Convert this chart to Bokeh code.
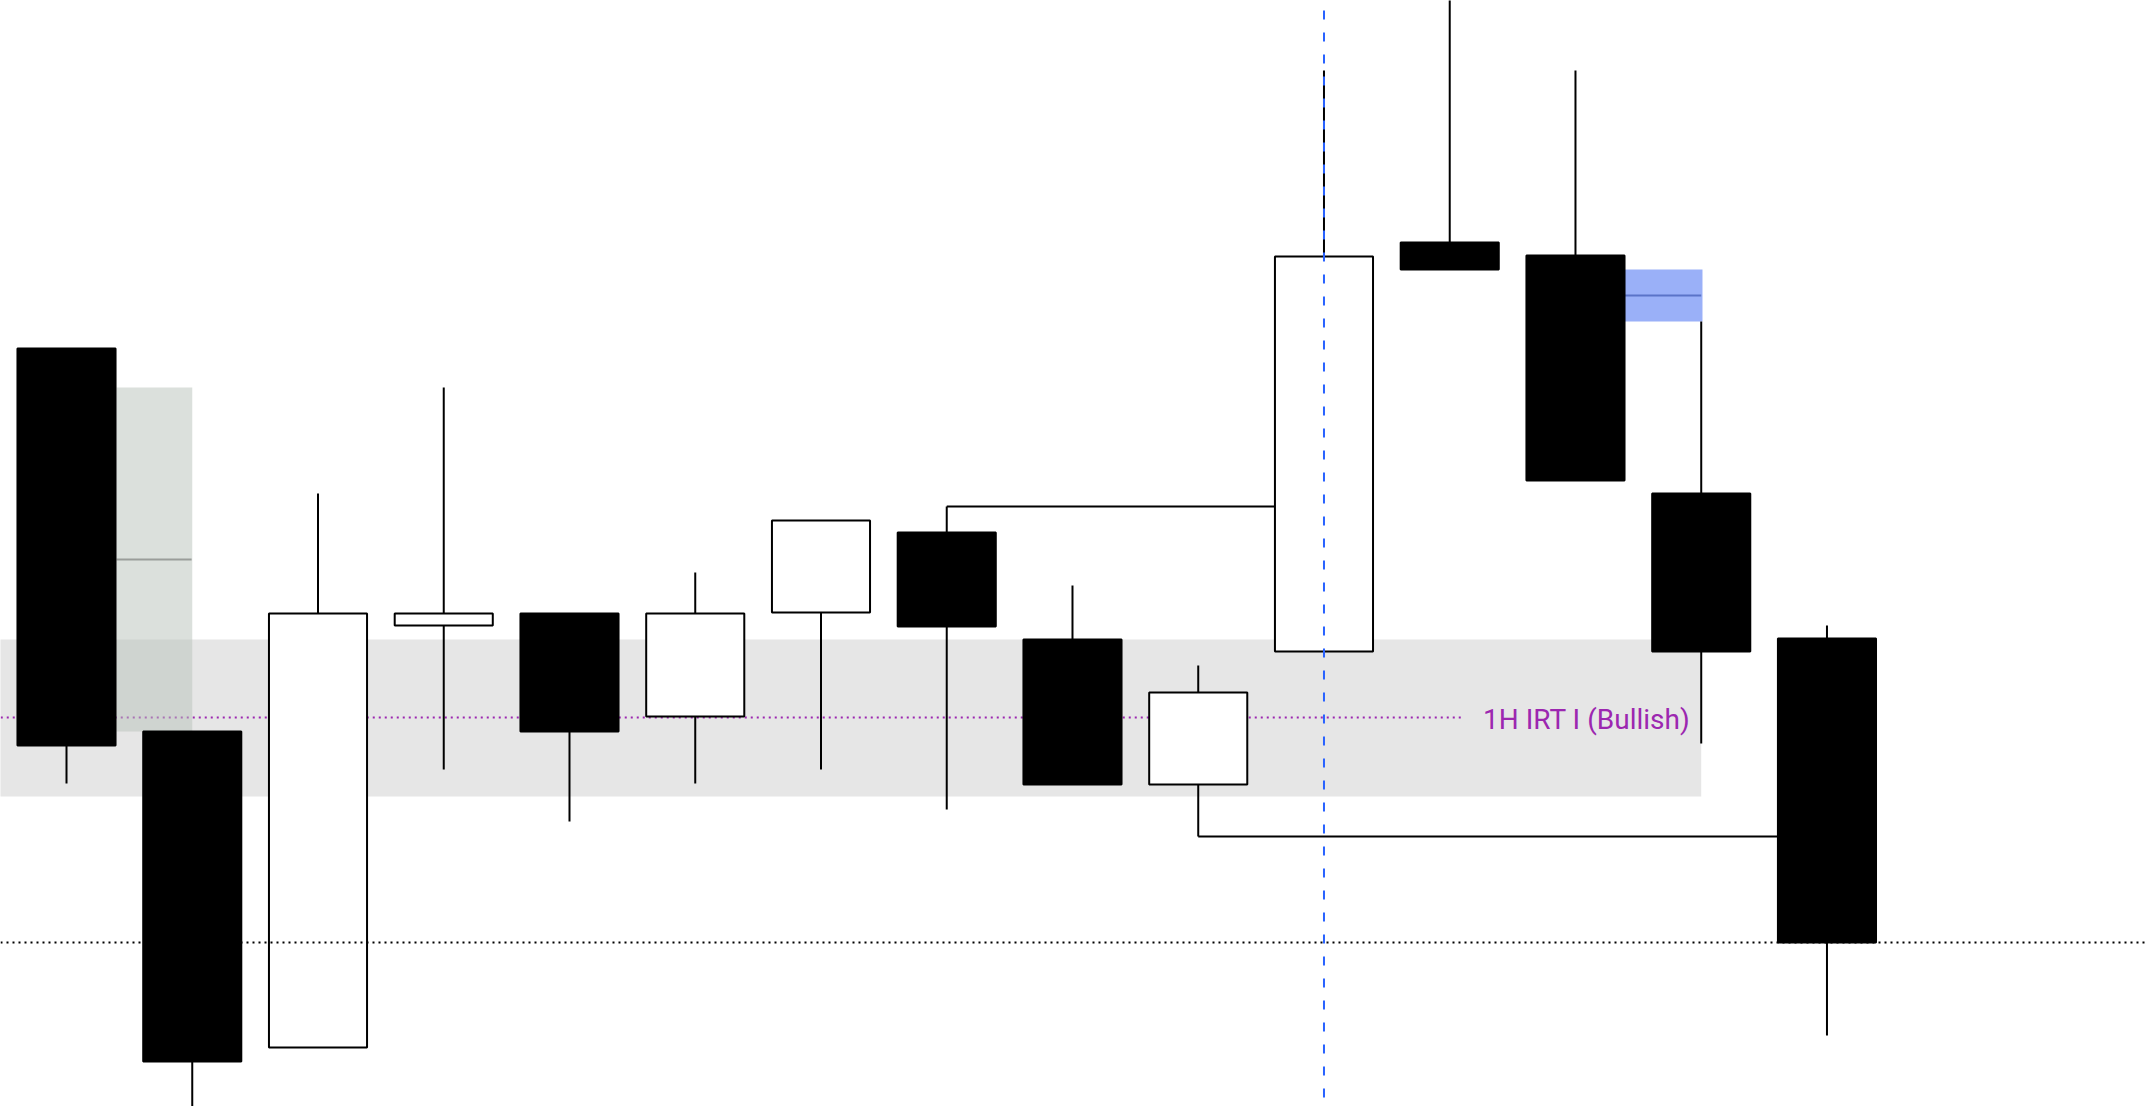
from bokeh.plotting import figure
from bokeh.models import Range1d, Span, ColumnDataSource
from bokeh.core.properties import value
from bokeh.embed import file_html
from bokeh.resources import INLINE

# ---- data (price units) ----
idx    = list(range(15))
opens  = [21189.5, 21093.75, 21014.75, 21120.25, 21123.25, 21097.5, 21123.5, 21143.5,
          21116.75, 21080.5, 21113.75, 21216.0, 21212.75, 21153.25, 21117.0]
highs  = [21189.5, 21093.75, 21153.25, 21179.75, 21123.25, 21133.5, 21146.5, 21150.0,
          21130.25, 21110.25, 21259.0, 21281.5, 21259.0, 21196.25, 21120.25]
lows   = [21080.75, 20994.0, 21014.75, 21084.25, 21071.25, 21080.75, 21084.25, 21074.25,
          21080.5, 21067.5, 21113.75, 21209.25, 21156.5, 21090.75, 21017.75]
closes = [21090.25, 21011.25, 21123.25, 21123.25, 21093.75, 21123.25, 21146.5, 21120.0,
          21080.5, 21103.5, 21212.5, 21209.25, 21156.5, 21113.75, 21041.0]

irt_top, irt_bottom = 21116.75, 21077.5          # grey zone
irt_level = 21097.25                              # purple dotted level
irt_label = "1H IRT I (Bullish)"
low_level = 21041.0                               # black dotted level
gray_box = (21179.75, 21093.75)                   # left grey box (top, bottom)
fvg_box = (21209.25, 21196.25)                    # blue box (top, bottom)
high_line = (7, 10, 21150.0)                      # from candle 8 high
low_line = (9, 14, 21067.5)                       # from candle 10 low
vline_idx = 10

W = 0.78

p = figure(width=2146, height=1106,
           x_range=Range1d(-0.5249, 16.541), y_range=Range1d(21000.0, 21276.5),
           output_backend="svg", toolbar_location=None,
           min_border=0, min_border_left=0, min_border_right=0,
           min_border_top=0, min_border_bottom=0)
p.xaxis.visible = False
p.yaxis.visible = False
p.grid.grid_line_color = None
p.outline_line_color = None
p.background_fill_color = "white"
p.border_fill_color = "white"

# grey IRT zone
p.quad(left=[-1], right=[13], top=[irt_top], bottom=[irt_bottom],
       fill_color="#e6e6e6", line_color=None)

# purple dotted level
p.segment(x0=[-1], y0=[irt_level], x1=[11.09], y1=[irt_level],
          line_color="#9c27b0", line_width=2, line_dash="2 4")

# grey box (semi transparent)
p.quad(left=[0.398], right=[1.0], top=[gray_box[0]], bottom=[gray_box[1]],
       fill_color="#b7c1b9", fill_alpha=0.5, line_color=None)
gmid = (gray_box[0] + gray_box[1]) / 2
p.segment(x0=[0.398], y0=[gmid], x1=[0.995], y1=[gmid],
          line_color="#9a9d9a", line_width=2)

# blue dashed vertical
p.add_layout(Span(location=vline_idx, dimension="height",
                  line_color="#2962ff", line_width=2, line_dash="9 13",
                  line_dash_offset=-10))

# connecting lines
p.segment(x0=[high_line[0], low_line[0]], y0=[high_line[2], low_line[2]],
          x1=[high_line[1], low_line[1]], y1=[high_line[2], low_line[2]],
          line_color="black", line_width=2)

# blue FVG box
p.quad(left=[12.39], right=[13.01], top=[fvg_box[0]], bottom=[fvg_box[1]],
       fill_color="#9ab0f8", line_color=None)
fmid = (fvg_box[0] + fvg_box[1]) / 2
p.segment(x0=[12.39], y0=[fmid], x1=[13.0], y1=[fmid],
          line_color="#5a73c8", line_width=2)

# candles
src = ColumnDataSource(dict(
    x=idx, o=opens, h=highs, l=lows, c=closes,
    top=[max(a, b) for a, b in zip(opens, closes)],
    bot=[min(a, b) for a, b in zip(opens, closes)],
    fill=["white" if c > o else "black" for o, c in zip(opens, closes)],
))
p.segment(x0="x", y0="h", x1="x", y1="l", source=src, line_color="black", line_width=2)
p.vbar(x="x", width=W, top="top", bottom="bot", source=src,
       fill_color="fill", line_color="black", line_width=2)

# black dotted level (on top)
p.add_layout(Span(location=low_level, dimension="width",
                  line_color="black", line_width=2, line_dash="2 4"))

# label
p.text(x=[13], y=[irt_level], text=[irt_label], text_font=value("Roboto"),
       text_font_size="28px", text_color="#9c27b0", text_align="right",
       text_baseline="middle", x_offset=-11, y_offset=2)

open("out.html", "w").write(file_html(p, INLINE))
